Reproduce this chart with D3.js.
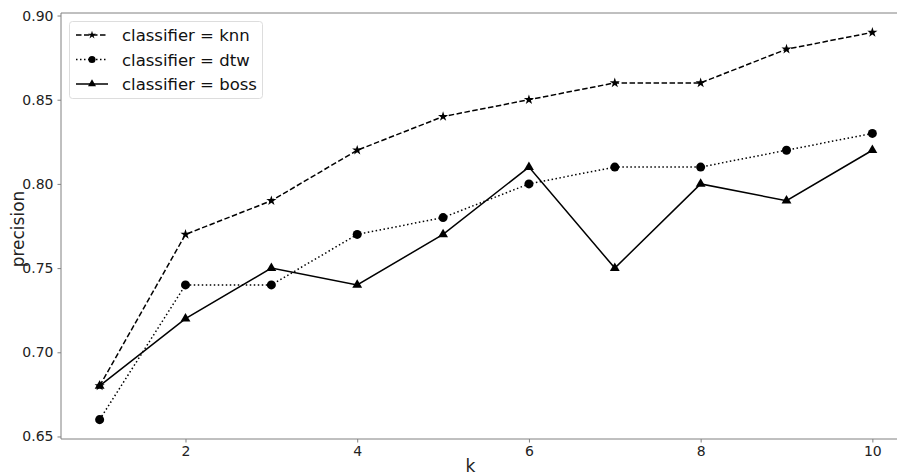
<!DOCTYPE html>
<html><head><meta charset="utf-8">
<script src="https://cdn.jsdelivr.net/npm/d3@7"></script>
<style>body{margin:0;background:#fff}svg{display:block}text{font-family:"DejaVu Sans",sans-serif}</style>
</head><body><svg id="c" width="897" height="476"></svg>
<script>
const kValues = [1,2,3,4,5,6,7,8,9,10];
const knn  = [0.68,0.77,0.79,0.82,0.84,0.85,0.86,0.86,0.88,0.89];
const dtw  = [0.66,0.74,0.74,0.77,0.78,0.80,0.81,0.81,0.82,0.83];
const boss = [0.68,0.72,0.75,0.74,0.77,0.81,0.75,0.80,0.79,0.82];
const xTicks = [2,4,6,8,10];
const yTicks = [0.65,0.70,0.75,0.80,0.85,0.90];
const seriesNames = ["classifier = knn","classifier = dtw","classifier = boss"];

const svg = d3.select("#c");
const L=61, R=911, T=13, B=439;
const x = d3.scaleLinear().domain([0.55,10.45]).range([L,R]);
const y = d3.scaleLinear().domain([0.6485,0.9015]).range([B,T]);
const spine="#808080";

svg.append("line").attr("x1",L).attr("x2",L).attr("y1",T).attr("y2",B).attr("stroke",spine).attr("stroke-width",1);
svg.append("line").attr("x1",L).attr("x2",R).attr("y1",B).attr("y2",B).attr("stroke",spine).attr("stroke-width",1);
svg.append("line").attr("x1",L).attr("x2",R).attr("y1",T).attr("y2",T).attr("stroke",spine).attr("stroke-width",1);

const xa = svg.append("g").attr("transform",`translate(0,${B})`)
  .call(d3.axisBottom(x).tickValues(xTicks).tickFormat(d3.format("d")).tickSize(3.5).tickPadding(4));
const ya = svg.append("g").attr("transform",`translate(${L},0)`)
  .call(d3.axisLeft(y).tickValues(yTicks).tickFormat(d3.format(".2f")).tickSize(3.5).tickPadding(4));
[xa,ya].forEach(g=>{
  g.select(".domain").remove();
  g.selectAll(".tick line").attr("stroke",spine);
  g.selectAll(".tick text").attr("fill","#222").style("font-size","14px").style("font-family","DejaVu Sans");
});

svg.append("text").attr("x",(L+896)/2-8).attr("y",472).attr("text-anchor","middle")
  .style("font-size","17px").attr("fill","#222").text("k");
svg.append("text").attr("transform",`translate(24,${(T+B)/2+3}) rotate(-90)`).attr("text-anchor","middle")
  .style("font-size","17px").attr("fill","#222").text("precision");

const mk = (type,size)=>d3.symbol().type(type).size(size);
const series = [
  {vals:knn, dash:"5.5,2.5", sym:mk(d3.symbolStar,32), lsym:mk(d3.symbolStar,20)},
  {vals:dtw, dash:"1.5,2.5", sym:mk(d3.symbolCircle,64), lsym:mk(d3.symbolCircle,40)},
  {vals:boss, dash:null, sym:mk(d3.symbolTriangle,42), lsym:mk(d3.symbolTriangle,28)}
];
const line = d3.line().x((d,i)=>x(kValues[i])).y(d=>y(d));
series.forEach(s=>{
  const p = svg.append("path").attr("d",line(s.vals)).attr("fill","none").attr("stroke","#000").attr("stroke-width",1.5);
  if(s.dash) p.attr("stroke-dasharray",s.dash);
  svg.selectAll(null).data(s.vals).enter().append("path")
    .attr("d",s.sym).attr("transform",(d,i)=>`translate(${x(kValues[i])},${y(d)})`).attr("fill","#000");
});

const lg = svg.append("g");
lg.append("rect").attr("x",69.5).attr("y",21.5).attr("width",193).attr("height",77).attr("rx",3)
  .attr("fill","#fff").attr("fill-opacity",0.8).attr("stroke","#ddd");
seriesNames.forEach((n,i)=>{
  const yy = 35 + i*24.5;
  const l = lg.append("line").attr("x1",76).attr("x2",108).attr("y1",yy).attr("y2",yy).attr("stroke","#000").attr("stroke-width",1.5);
  if(series[i].dash) l.attr("stroke-dasharray",series[i].dash);
  lg.append("path").attr("d",series[i].lsym).attr("transform",`translate(92,${yy})`).attr("fill","#000");
  lg.append("text").attr("x",122).attr("y",yy+6).style("font-size","16.5px").attr("fill","#111").text(n);
});
</script></body></html>
